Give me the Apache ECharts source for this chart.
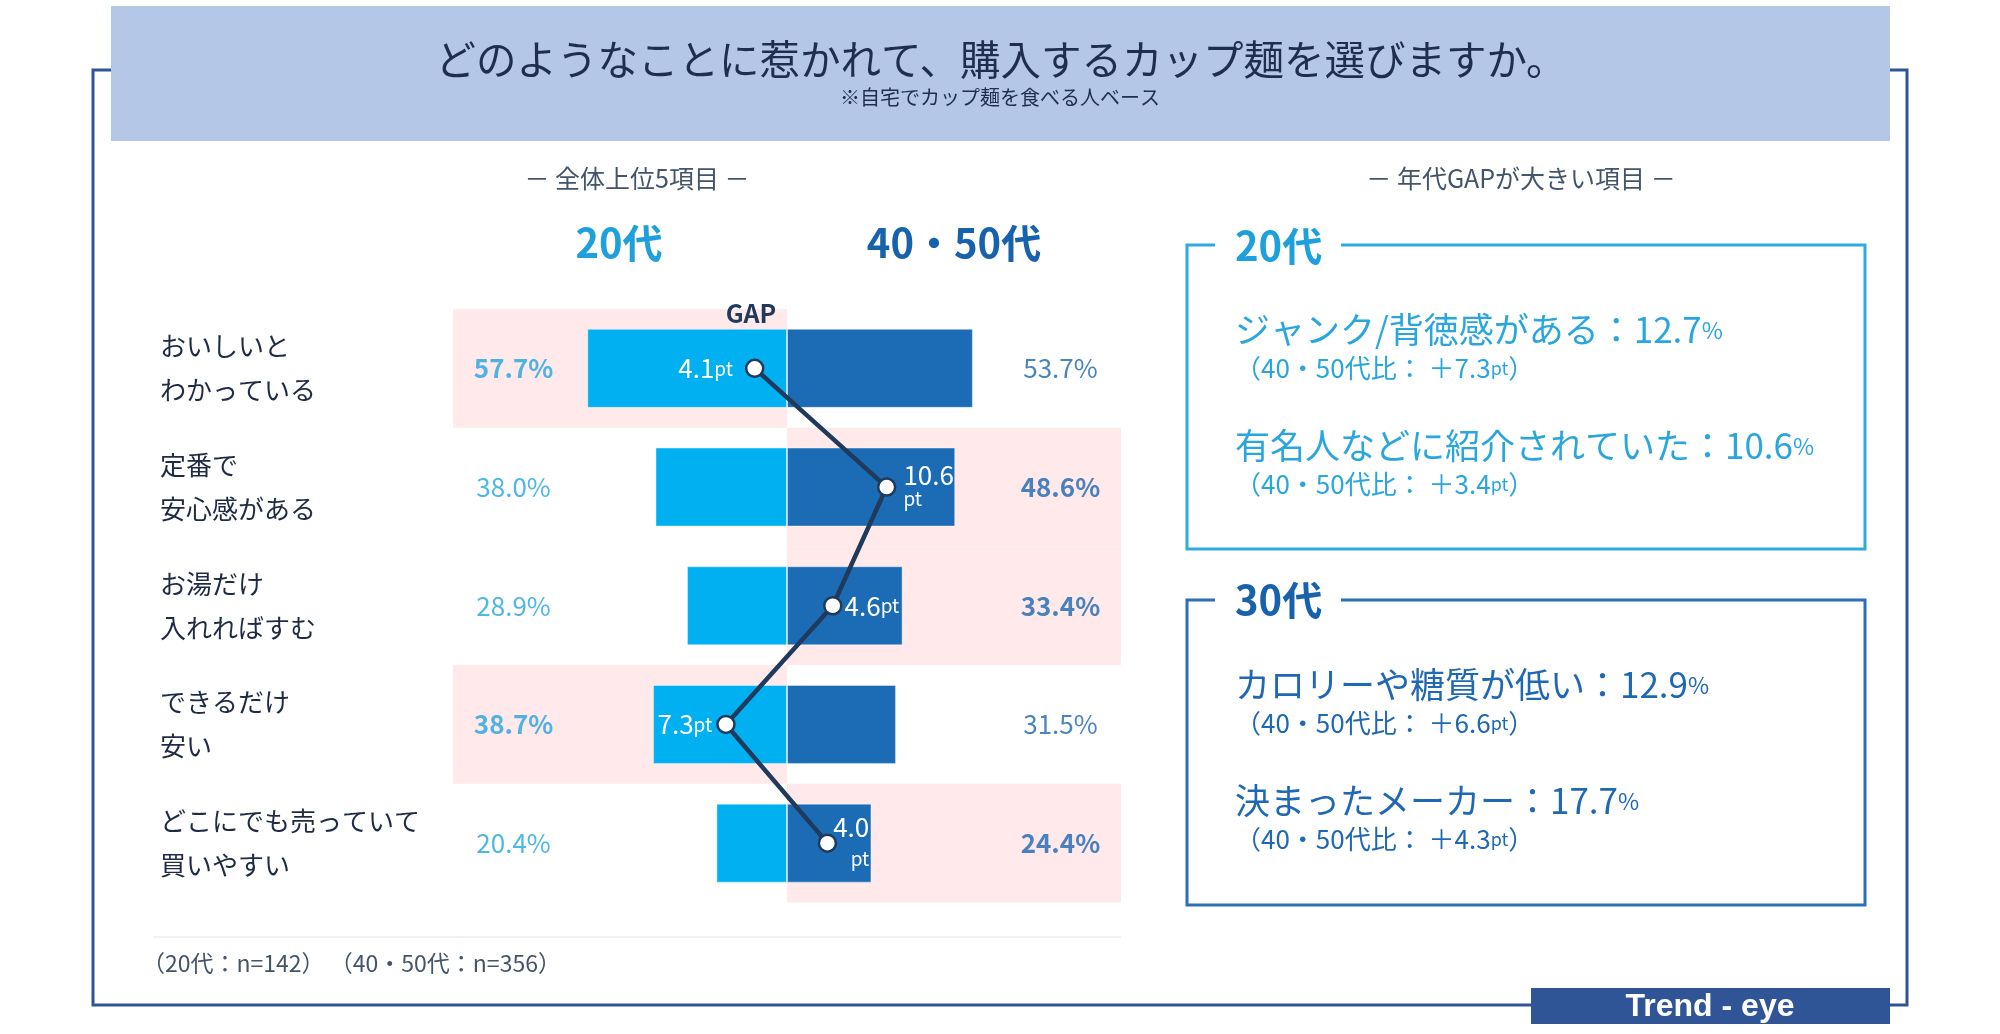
<!DOCTYPE html>
<html lang="ja">
<head>
<meta charset="utf-8">
<title>カップ麺の購入理由</title>
<script src="https://cdn.jsdelivr.net/npm/echarts@6/dist/echarts.min.js"></script>
<style>
  html, body { margin: 0; padding: 0; background: #fff; }
  #main { width: 2000px; height: 1034px; }
</style>
</head>
<body>
<div id="main"></div>
<script>
// 全体上位5項目
const categories = ['おいしいと\nわかっている', '定番で\n安心感がある', 'お湯だけ\n入れればすむ', 'できるだけ\n安い', 'どこにでも売っていて\n買いやすい'];
const age20 = [57.7, 38.0, 28.9, 38.7, 20.4];
const age4050 = [53.7, 48.6, 33.4, 31.5, 24.4];
const gapPt = [4.1, 10.6, 4.6, 7.3, 4.0];

// 年代GAPが大きい項目
const gap20Labels = ['ジャンク/背徳感がある', '有名人などに紹介されていた'];
const gap20Values = [12.7, 10.6];
const gap20Diffs = [7.3, 3.4];
const gap30Labels = ['カロリーや糖質が低い', '決まったメーカー'];
const gap30Values = [12.9, 17.7];
const gap30Diffs = [6.6, 4.3];

const FONT = 'Noto Sans CJK JP';
const NAVY = '#1f3a5c';
const FRAME = '#2f5597';
const CYAN = '#00b0f0';
const BLUE = '#1b6cb4';
const PINK = '#ffe9ea';
const X_MAX = 96.5;        // 棒グラフ側の軸の端（ピンクの帯もここまで）
const VALUE_LABEL_AT = 79; // 数値ラベルの位置

const chart = echarts.init(document.getElementById('main'));

// GAPラベルの置き方（行ごと）
const gapLabelLayout = [
  { position: 'left', distance: 12 },
  { position: 'right', distance: 7, wrap: true, lineHeight: 23 },
  { position: 'right', distance: 2 },
  { position: 'left', distance: 4 },
  { position: 'right', distance: 0, wrap: true, lineHeight: 32, align: 'right', offset: [-4, 0] }
];

function txt(x, y, text, font, fill, align) {
  return {
    type: 'text', x: x, y: y, z: 10,
    style: {
      text: text, font: font, fill: fill,
      align: align || 'center', textAlign: align || 'center',
      verticalAlign: 'middle', textVerticalAlign: 'middle'
    }
  };
}

function panelItems(labels, values, diffs, top, color) {
  const els = [];
  labels.forEach((label, i) => {
    const y = top + 85 + i * 116;
    els.push({
      type: 'text', x: 1235, y: y, z: 10,
      style: {
        text: `{m|${label}：${values[i].toFixed(1)}}{s|%}`,
        verticalAlign: 'middle', textVerticalAlign: 'middle',
        rich: {
          m: { fontFamily: FONT, fontSize: 35, fill: color },
          s: { fontFamily: FONT, fontSize: 23, fill: color }
        }
      }
    });
    els.push({
      type: 'text', x: 1235, y: y + 38, z: 10,
      style: {
        text: `{m|（40・50代比： ＋${diffs[i].toFixed(1)}}{s|pt}{m|）}`,
        verticalAlign: 'middle', textVerticalAlign: 'middle',
        rich: {
          m: { fontFamily: FONT, fontSize: 26, fill: color },
          s: { fontFamily: FONT, fontSize: 18, fill: color }
        }
      }
    });
  });
  return els;
}

function panelBox(top, bottom, color) {
  return {
    type: 'polyline', z: 5,
    shape: { points: [[1215, top], [1187, top], [1187, bottom], [1865, bottom], [1865, top], [1341, top]] },
    style: { stroke: color, lineWidth: 3, fill: null }
  };
}

const graphics = [
  { type: 'rect', z: 1, shape: { x: 93, y: 70, width: 1814, height: 935 }, style: { fill: null, stroke: FRAME, lineWidth: 3 } },
  { type: 'rect', z: 2, shape: { x: 111, y: 6, width: 1779, height: 135 }, style: { fill: '#b4c7e7' } },
  txt(1001, 60, 'どのようなことに惹かれて、購入するカップ麺を選びますか。', `40.5px "${FONT}"`, '#1f2d50'),
  txt(1000, 97, '※自宅でカップ麺を食べる人ベース', `20px "${FONT}"`, '#1f2d50'),
  txt(637, 178, '－ 全体上位5項目 －', `25px "${FONT}"`, '#44546a'),
  txt(1521, 178, '－ 年代GAPが大きい項目 －', `25px "${FONT}"`, '#44546a'),
  txt(619, 243, '20代', `bold 40px "${FONT}"`, '#1ea0dc'),
  txt(954, 243, '40・50代', `bold 40px "${FONT}"`, '#1762ad'),
  txt(751, 313, 'GAP', `bold 25px "${FONT}"`, NAVY),
  { type: 'line', z: 5, shape: { x1: 153, y1: 937, x2: 1121, y2: 937 }, style: { stroke: '#eeeeee', lineWidth: 1.5 } },
  txt(142, 963, '（20代：n=142） （40・50代：n=356）', `23px "${FONT}"`, '#44546a', 'left'),
  panelBox(245, 549, '#2eaae3'),
  txt(1235, 246, '20代', `bold 40px "${FONT}"`, '#1ea0dc', 'left'),
  panelBox(600, 905, '#2a6fb8'),
  txt(1235, 600, '30代', `bold 40px "${FONT}"`, '#1762ad', 'left'),
  ...panelItems(gap20Labels, gap20Values, gap20Diffs, 245, '#2aa6df'),
  ...panelItems(gap30Labels, gap30Values, gap30Diffs, 600, '#1f68b3'),
  { type: 'rect', z: 6, shape: { x: 1531, y: 988, width: 359, height: 36 }, style: { fill: FRAME } },
  txt(1710, 1007, 'Trend - eye', 'bold 32px "Liberation Sans"', '#ffffff')
];

const option = {
  animation: false,
  textStyle: { fontFamily: FONT },
  graphic: { elements: graphics },
  grid: { left: 453, right: 879, top: 309, bottom: 131.5 },
  xAxis: [
    { type: 'value', min: -X_MAX, max: X_MAX, show: false },
    { type: 'value', min: -37.7, max: 36.7, show: false }
  ],
  yAxis: [
    {
      type: 'category', inverse: true, data: categories,
      axisLine: { show: false, onZero: false },
      axisTick: { show: false },
      axisLabel: { align: 'left', margin: 293, fontSize: 26, lineHeight: 44, color: '#1f2a44' }
    },
    {
      type: 'category', inverse: true, data: categories, show: false,
      axisLine: { onZero: false }
    }
  ],
  series: [
    {
      // 20代が高い項目の背景
      type: 'bar', xAxisIndex: 0, yAxisIndex: 1, z: 1, silent: true,
      barWidth: '100%', barGap: '-100%',
      itemStyle: { color: PINK },
      data: age20.map((v, i) => (v > age4050[i] ? -X_MAX : '-'))
    },
    {
      // 40・50代が高い項目の背景
      type: 'bar', xAxisIndex: 0, yAxisIndex: 1, z: 1, silent: true,
      barWidth: '100%', barGap: '-100%',
      itemStyle: { color: PINK },
      data: age4050.map((v, i) => (v > age20[i] ? X_MAX : '-'))
    },
    {
      name: '20代', type: 'bar', xAxisIndex: 0, yAxisIndex: 0, z: 2,
      barWidth: 79, barGap: '-100%',
      itemStyle: { color: CYAN, borderColor: 'rgba(255,255,255,0.4)', borderWidth: 1 },
      data: age20.map(v => -v)
    },
    {
      name: '40・50代', type: 'bar', xAxisIndex: 0, yAxisIndex: 0, z: 2,
      barWidth: 79, barGap: '-100%',
      itemStyle: { color: BLUE, borderColor: 'rgba(255,255,255,0.4)', borderWidth: 1 },
      data: age4050
    },
    {
      type: 'scatter', xAxisIndex: 0, yAxisIndex: 0, z: 4, silent: true,
      symbolSize: 1, itemStyle: { color: 'transparent' },
      label: {
        show: true, position: 'inside', fontSize: 26, color: '#22a5e0',
        formatter: p => p.value[2].toFixed(1) + '%'
      },
      data: age20.map((v, i) => ({
        value: [-VALUE_LABEL_AT, i, v],
        label: { fontWeight: v > age4050[i] ? 'bold' : 'normal' }
      }))
    },
    {
      type: 'scatter', xAxisIndex: 0, yAxisIndex: 0, z: 4, silent: true,
      symbolSize: 1, itemStyle: { color: 'transparent' },
      label: {
        show: true, position: 'inside', fontSize: 26, color: '#1a67b1',
        formatter: p => p.value[2].toFixed(1) + '%'
      },
      data: age4050.map((v, i) => ({
        value: [VALUE_LABEL_AT, i, v],
        label: { fontWeight: v > age20[i] ? 'bold' : 'normal' }
      }))
    },
    {
      name: 'GAP', type: 'line', xAxisIndex: 1, yAxisIndex: 0, z: 3,
      symbol: 'circle', symbolSize: 17,
      lineStyle: { color: NAVY, width: 4.5 },
      itemStyle: { color: '#ffffff', borderColor: NAVY, borderWidth: 2.5 },
      data: gapPt.map((g, i) => {
        const lay = gapLabelLayout[i];
        const lh = lay.lineHeight || 30;
        const al = lay.align || 'left';
        return {
          value: [age20[i] > age4050[i] ? -g : g, i],
          label: {
            show: true,
            position: lay.position,
            distance: lay.distance,
            offset: lay.offset || [0, 0],
            formatter: `{n|${g.toFixed(1)}}${lay.wrap ? '\n' : ''}{u|pt}`,
            rich: {
              n: { fontSize: 26, color: '#fff', lineHeight: lh, align: al },
              u: { fontSize: 19, color: '#fff', lineHeight: lh, align: al }
            }
          }
        };
      })
    }
  ]
};

chart.setOption(option);
window.addEventListener('resize', () => chart.resize());
</script>
</body>
</html>
